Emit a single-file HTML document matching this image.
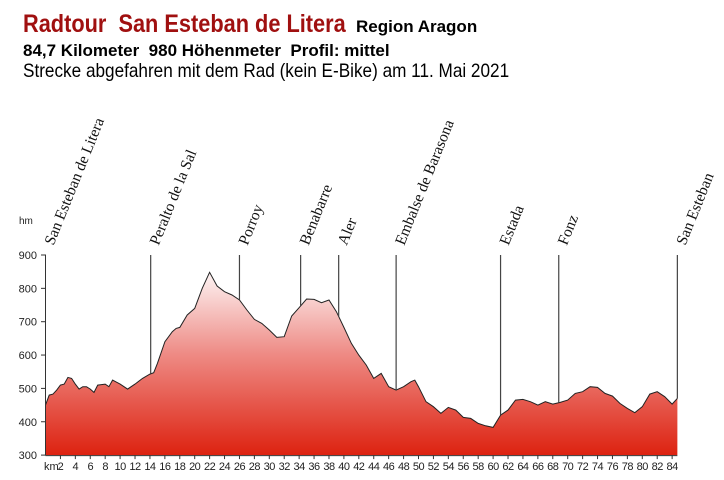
<!DOCTYPE html>
<html><head><meta charset="utf-8"><style>
body{margin:0;background:#fff;width:724px;height:480px;overflow:hidden;font-family:"Liberation Sans",sans-serif}
.h{position:absolute;white-space:pre;line-height:1.15;transform-origin:0 0}
#t1{left:23px;top:10px;font-size:25px;font-weight:bold;color:#a01010;transform:scaleX(0.87)}
#t1b{left:356px;top:17px;font-size:17px;font-weight:bold;color:#000}
#t2{left:23px;top:41px;font-size:17px;font-weight:bold}
#t3{left:23px;top:60px;font-size:19.5px;transform:scaleX(0.88)}
svg{position:absolute;left:0;top:0}
</style></head><body>
<div id="t1" class="h">Radtour  San Esteban de Litera</div>
<div id="t1b" class="h">Region Aragon</div>
<div id="t2" class="h">84,7 Kilometer  980 Höhenmeter  Profil: mittel</div>
<div id="t3" class="h">Strecke abgefahren mit dem Rad (kein E-Bike) am 11. Mai 2021</div>
<svg id="c" width="724" height="480">
<defs><linearGradient id="g" x1="0" y1="0" x2="0" y2="1"><stop offset="0" stop-color="#fdf4f4"/><stop offset="0.45" stop-color="#ee8a84"/><stop offset="1" stop-color="#dd2210"/></linearGradient></defs>
</svg>
<script>
const km=[0,0.5,1,1.5,2,2.5,3,3.5,4,4.5,5,5.5,6,6.5,7,8,8.5,9,10,11,12,13,14,14.5,15,16,17,17.5,18,19,20,21,22,23,24,25,26,27,28,29,30,31,32,33,34,35,36,37,38,39,40,41,42,43,44,45,46,47,48,49,49.5,50,51,52,53,54,55,56,57,58,59,60,61,62,63,64,65,66,67,68,69,70,71,72,73,74,75,76,77,78,79,80,81,82,83,84,84.7];
const elev=[450,480,483,495,510,513,533,530,513,498,505,505,498,488,510,513,505,525,513,498,513,530,543,547,575,640,670,680,683,720,740,800,848,807,790,780,765,735,707,695,675,653,655,717,742,768,767,757,765,730,683,635,600,570,530,545,505,495,505,520,525,505,460,445,425,443,435,413,410,395,388,383,420,435,465,467,460,450,460,453,458,465,485,490,505,503,485,477,455,440,427,445,483,490,475,453,470];
const yTicks=[300,400,500,600,700,800,900];
const xTicks=[2,4,6,8,10,12,14,16,18,20,22,24,26,28,30,32,34,36,38,40,42,44,46,48,50,52,54,56,58,60,62,64,66,68,70,72,74,76,78,80,82,84];
const places=["San Esteban de Litera","Peralto de la Sal","Porroy","Benabarre","Aler","Embalse de Barasona","Estada","Fonz","San Esteban"];
const placeKm=[0,14.1,26,34.2,39.3,47,61,68.8,84.7];
const X=k=>45.5+k*7.46, Y=e=>255+(900-e)*0.3335;
const svg=document.getElementById('c'),NS='http://www.w3.org/2000/svg';
function mk(t,a,p){const e=document.createElementNS(NS,t);for(const k in a)e.setAttribute(k,a[k]);(p||svg).appendChild(e);return e;}
function interp(k){for(let i=1;i<km.length;i++)if(km[i]>=k){const f=(k-km[i-1])/(km[i]-km[i-1]);return elev[i-1]+f*(elev[i]-elev[i-1]);}return elev[elev.length-1];}
let d='M'+X(0)+','+Y(300);km.forEach((k,i)=>d+='L'+X(k).toFixed(1)+','+Y(elev[i]).toFixed(1));d+='L'+X(km[km.length-1])+','+Y(300)+'Z';
const area=mk('path',{d:d,fill:'url(#g)'});

let l='';km.forEach((k,i)=>l+=(i?'L':'M')+X(k).toFixed(1)+','+Y(elev[i]).toFixed(1));
const line=mk('path',{d:l,fill:'none',stroke:'#222','stroke-width':1});

const ya=mk('line',{x1:45.5,y1:255,x2:45.5,y2:Y(300),stroke:'#333'});

const xa=mk('line',{x1:45.5,y1:Y(300)+0.5,x2:X(84.7),y2:Y(300)+0.5,stroke:'#333'});

yTicks.forEach(v=>{mk('line',{x1:41,x2:46,y1:Y(v),y2:Y(v),stroke:'#333'});
const t=mk('text',{x:37,y:Y(v)+4,'text-anchor':'end','font-size':11,fill:'#222','font-family':'Liberation Sans'});t.textContent=v;
});
const hm=mk('text',{x:19,y:224,'font-size':10,fill:'#222'});hm.textContent='hm';

xTicks.forEach(v=>{mk('line',{x1:X(v),x2:X(v),y1:Y(300),y2:Y(300)+4,stroke:'#333'});
const t=mk('text',{x:X(v),y:470,'text-anchor':'middle','font-size':11,fill:'#222','letter-spacing':'-0.5'});t.textContent=v;
});
const kmT=mk('text',{x:44,y:470,'font-size':11,fill:'#222'});kmT.textContent='km';

places.forEach((p,i)=>{const x=X(placeKm[i]);
if(i>0){const ln=mk('line',{x1:x,x2:x,y1:255,y2:Y(interp(placeKm[i])),stroke:'#444','stroke-width':1.2});
}
const t=mk('text',{transform:'translate('+(x+8)+',246) rotate(-68)','font-size':15.5,'font-family':'Liberation Serif',fill:'#111'});t.textContent=p;
});
</script>
</body></html>
